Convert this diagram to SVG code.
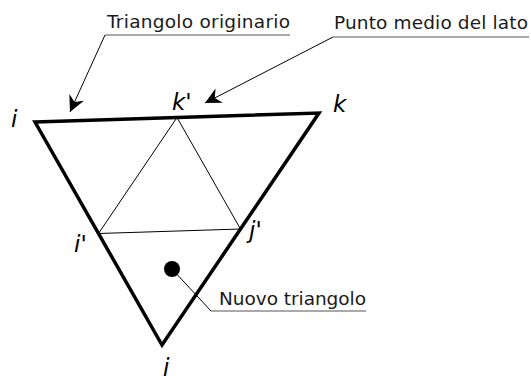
<svg xmlns="http://www.w3.org/2000/svg" width="531" height="376" viewBox="0 0 531 376">
<defs>
<style>
.lbl{font-family:"DejaVu Sans",sans-serif;font-size:18.5px;fill:#1a1a1a}
.v{font-family:"DejaVu Sans",sans-serif;font-size:23px;font-style:italic;fill:#000}
.thick{fill:none;stroke:#000;stroke-width:3.5;stroke-linejoin:miter}
.thin{fill:none;stroke:#000;stroke-width:1}
.under{fill:none;stroke:#555;stroke-width:1.2}
.lead{fill:none;stroke:#000;stroke-width:1}
</style>
<marker id="arr" markerUnits="userSpaceOnUse" viewBox="-17 -9 18 18" refX="0" refY="0" markerWidth="18" markerHeight="18" orient="auto">
<path d="M0,0 L-16,-8 L-11,0 L-16,8 Z" fill="#000"/>
</marker>
</defs>
<g id="triangle">
<polygon class="thick" points="35,122 319,113 162,345"/>
</g>
<g id="inner">
<polygon class="thin" points="177,117.5 98.5,233.5 240.5,229"/>
</g>
<g id="dot">
<circle cx="172" cy="269" r="8" fill="#000"/>
</g>
<g id="labels">
<text class="v" x="11" y="127">i</text>
<text class="v" x="172" y="110">k'</text>
<text class="v" x="333" y="112">k</text>
<text class="v" x="74" y="252">i'</text>
<text class="v" x="249" y="238">j'</text>
<text class="v" x="163" y="375">j</text>
</g>
<g id="note-orig">
<text class="lbl" x="107" y="28" textLength="183" lengthAdjust="spacing">Triangolo originario</text>
</g>
<g id="note-mid">
<text class="lbl" x="334" y="29" textLength="194" lengthAdjust="spacing">Punto medio del lato</text>
</g>
<g id="note-new">
<text class="lbl" x="219" y="305" textLength="147" lengthAdjust="spacing">Nuovo triangolo</text>
</g>
<g id="connectors">
<path class="under" d="M105,35 H290"/>
<path class="lead" d="M105,35 L70,112" marker-end="url(#arr)"/>
<path class="under" d="M333,37 H529"/>
<path class="lead" d="M333,37 L205,103" marker-end="url(#arr)"/>
<path class="lead" d="M172,269 L211,311"/>
<path class="under" d="M211,311 H366"/>
</g>
</svg>
